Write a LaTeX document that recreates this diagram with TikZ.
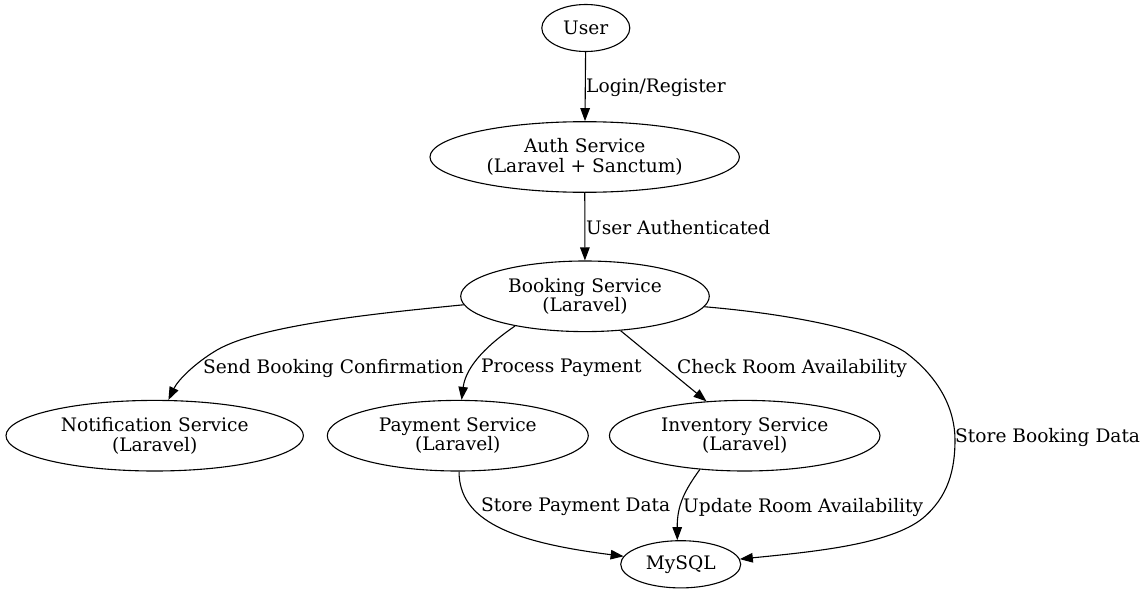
\documentclass[tikz,border=0pt]{standalone}
\usepackage{fontspec}
\setmainfont{DejaVu Serif}
\usetikzlibrary{arrows.meta,shapes.geometric}
\newcommand\gvfont{\fontsize{18.6}{19.6}\selectfont}
\begin{document}
\begin{tikzpicture}[x=1pt,y=-1pt,
  svc/.style={draw, ellipse, inner sep=0pt, align=center, font=\gvfont, line width=1.1pt},
  lab/.style={anchor=west, inner sep=0pt, font=\gvfont},
  conn/.style={draw, line width=1.1pt, -{Triangle[length=13pt,width=9.5pt]}}]
\useasboundingbox (0,0) rectangle (1146,594);
\fill[white] (0,0) rectangle (1146,594);
% nodes
\node[svc, minimum width=88pt, minimum height=47pt] (user) at (585.8,28) {User};
\node[svc, minimum width=309.4pt, minimum height=70.6pt] (auth) at (584.7,157) {Auth Service\\(Laravel + Sanctum)};
\node[svc, minimum width=248.6pt, minimum height=70.6pt] (booking) at (585,296.3) {Booking Service\\(Laravel)};
\node[svc, minimum width=297.4pt, minimum height=70.6pt] (notif) at (154.7,435.7) {Notification Service\\(Laravel)};
\node[svc, minimum width=261pt, minimum height=70.6pt] (payment) at (457.8,435.7) {Payment Service\\(Laravel)};
\node[svc, minimum width=270.6pt, minimum height=70.6pt] (inventory) at (744.7,435.7) {Inventory Service\\(Laravel)};
\node[svc, minimum width=120pt, minimum height=47.2pt] (mysql) at (680.7,564.3) {MySQL};
% connectors
\path[conn] (user) -- (auth);
\path[conn] (auth) -- (booking);
\path[conn] (booking.184) .. controls (380,313) and (260,325) .. (217,350)
   .. controls (195,363) and (178,380) .. (notif.69.6);
\path[conn] (booking.203.7) .. controls (490,343) and (466,365) .. (payment.84.9);
\path[conn] (booking.316.8) -- (inventory.138.8);
\path[conn] (booking.355.9) .. controls (790,314) and (870,330) .. (905,352)
   .. controls (940,378) and (955,410) .. (955,440)
   .. controls (955,470) and (948,497) .. (923,518)
   .. controls (890,545) and (810,552) .. (mysql.5.7);
\path[conn] (payment.272.4) .. controls (459,520) and (510,542) .. (mysql.172.7);
\path[conn] (inventory.217.1) .. controls (685,490) and (677,505) .. (mysql.98.9);
% labels
\node[lab] (l1) at (586,88) {Login/Register};
\node[lab] (l2) at (586,227.5) {User Authenticated};
\node[lab] (l3) at (203,368) {Send Booking Confirmation};
\node[lab] (l4) at (481,368) {Process Payment};
\node[lab] (l5) at (677,368) {Check Room Availability};
\node[lab] (l6) at (955,437) {Store Booking Data};
\node[lab] (l7) at (481,507) {Store Payment Data};
\node[lab] (l8) at (683,507) {Update Room Availability};
\end{tikzpicture}
\end{document}
